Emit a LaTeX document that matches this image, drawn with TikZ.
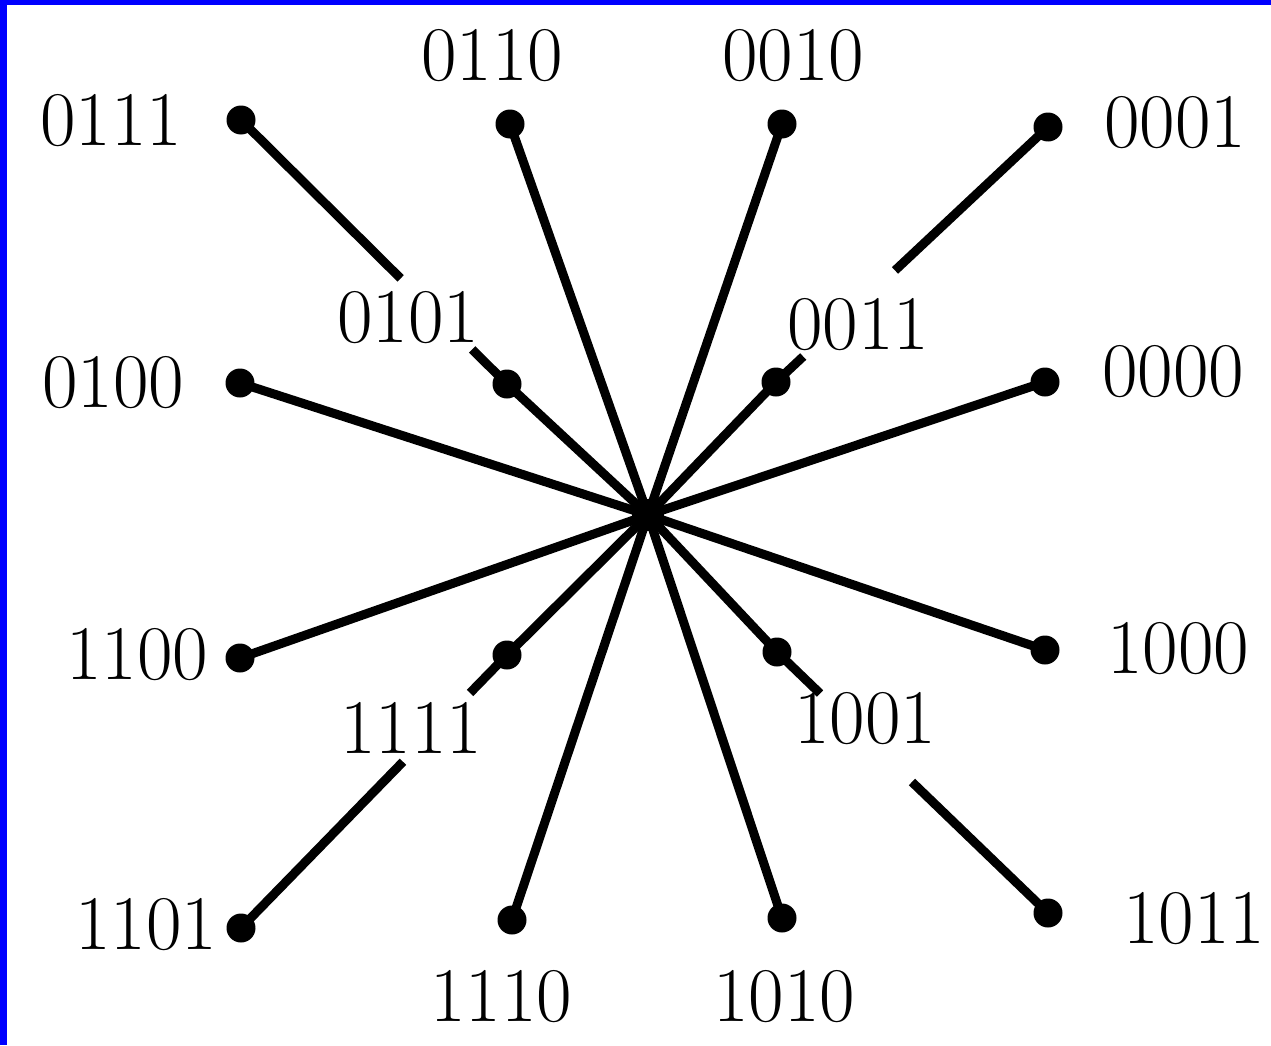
\documentclass[tikz,border=0pt]{standalone}
\usetikzlibrary{calc}
\begin{document}
\begin{tikzpicture}[x=0.02cm,y=-0.02cm,
  vertex/.style={circle,fill=black,inner sep=0pt,minimum size=0.58cm},
  lbl/.style={inner sep=0pt,font=\fontsize{44}{50}\selectfont},
  edge/.style={line width=0.18cm}]
\useasboundingbox (0,0) rectangle (1271,1045);
\fill[white] (0,0) rectangle (1271,1045);
\fill[blue] (0,0) rectangle (1271,5);
\fill[blue] (0,0) rectangle (7,1045);
% vertices
\coordinate (c) at (648,515);
\node[vertex] (v0111) at (241,120) {};
\node[vertex] (v0110) at (510,124) {};
\node[vertex] (v0010) at (782,124) {};
\node[vertex] (v0001) at (1048,127) {};
\node[vertex] (v0101) at (507,384) {};
\node[vertex] (v0011) at (776,382) {};
\node[vertex] (v0100) at (240,383) {};
\node[vertex] (v0000) at (1045,382) {};
\node[vertex] (v1100) at (240,658) {};
\node[vertex] (v1111) at (507,655) {};
\node[vertex] (v1001) at (777,652) {};
\node[vertex] (v1000) at (1045,650) {};
\node[vertex] (v1101) at (241,928) {};
\node[vertex] (v1110) at (512,920) {};
\node[vertex] (v1010) at (782,918) {};
\node[vertex] (v1011) at (1048,913) {};
% labels
\node[lbl] (l0111) at (111,121) {0111};
\node[lbl] (l0110) at (492,56) {0110};
\node[lbl] (l0010) at (793,56) {0010};
\node[lbl] (l0001) at (1175,123) {0001};
\node[lbl] (l0101) at (408,318) {0101};
\node[lbl] (l0011) at (858,325) {0011};
\node[lbl] (l0100) at (113,383) {0100};
\node[lbl] (l0000) at (1173,372) {0000};
\node[lbl] (l1100) at (137,655) {1100};
\node[lbl] (l1111) at (411,728) {1111};
\node[lbl] (l1001) at (865,719) {1001};
\node[lbl] (l1000) at (1178,649) {1000};
\node[lbl] (l1101) at (146,925) {1101};
\node[lbl] (l1110) at (501,997) {1110};
\node[lbl] (l1010) at (784,997) {1010};
\node[lbl] (l1011) at (1194,919) {1011};
% edges to centre
\foreach \v in {0110,0010,0100,0000,1100,1000,1110,1010,0101,0011,1111,1001}
  \draw[edge] (c) -- (v\v.center);
% broken edges (gap where the label sits)
\coordinate (a1) at ($(v0111)!0.60!(v0101)$);
\coordinate (a2) at ($(v0111)!0.869!(v0101)$);
\draw[edge] (v0111.center) -- (a1);
\draw[edge] (a2) -- (v0101.center);
\coordinate (b1) at ($(v0001)!0.5625!(v0011)$);
\coordinate (b2) at ($(v0001)!0.90!(v0011)$);
\draw[edge] (v0001.center) -- (b1);
\draw[edge] (b2) -- (v0011.center);
\coordinate (d1) at ($(v1101)!0.609!(v1111)$);
\coordinate (d2) at ($(v1101)!0.861!(v1111)$);
\draw[edge] (v1101.center) -- (d1);
\draw[edge] (d2) -- (v1111.center);
\coordinate (e1) at ($(v1011)!0.502!(v1001)$);
\coordinate (e2) at ($(v1011)!0.841!(v1001)$);
\draw[edge] (v1011.center) -- (e1);
\draw[edge] (e2) -- (v1001.center);
\fill (c) circle (0.32cm);
\end{tikzpicture}
\end{document}
